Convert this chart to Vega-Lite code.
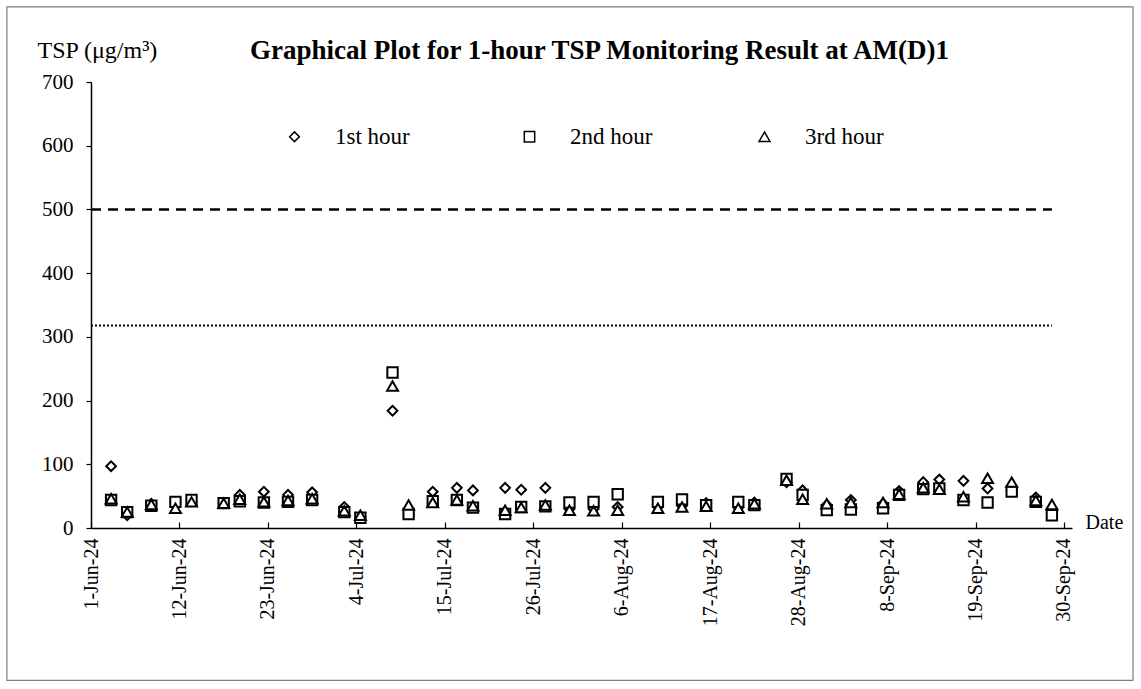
{
  "$schema": "https://vega.github.io/schema/vega-lite/v6.json",
  "width": 981,
  "height": 446,
  "autosize": {"type": "none"},
  "padding": {"left": 91, "top": 82, "right": 69, "bottom": 161},
  "background": "white",
  "config": {"font": "Liberation Serif", "view": {"stroke": null}},
  "title": {
    "text": "Graphical Plot for 1-hour TSP Monitoring Result at AM(D)1",
    "fontSize": 27,
    "fontWeight": "bold",
    "font": "Liberation Serif",
    "color": "black",
    "anchor": "middle",
    "frame": "group",
    "dx": 18,
    "offset": -59
  },
  "layer": [
    {
      "data": {"values": [{}]},
      "mark": {"type": "rect", "fill": null, "stroke": "#7f7f7f", "strokeWidth": 1.2},
      "encoding": {
        "x": {"datum": {"year": 2024, "month": 5, "date": 21, "hours": 13}, "type": "temporal", "scale": {"domain": [{"year": 2024, "month": 6, "date": 1}, {"year": 2024, "month": 10, "date": 1}]}},
        "x2": {"datum": {"year": 2024, "month": 10, "date": 8, "hours": 14}},
        "y": {"datum": 818, "type": "quantitative", "scale": {"domain": [0, 700], "nice": false}},
        "y2": {"datum": -239}
      }
    },
    {
      "data": {"values": [{"start": "2024-06-01T00:00", "end": "2024-09-28T12:00", "level": 500}]},
      "mark": {"type": "rule", "color": "black", "strokeWidth": 2.5, "strokeDash": [10, 7]},
      "encoding": {
        "x": {"field": "start", "type": "temporal", "scale": {"domain": [{"year": 2024, "month": 6, "date": 1}, {"year": 2024, "month": 10, "date": 1}]}},
        "x2": {"field": "end"},
        "y": {"field": "level", "type": "quantitative", "scale": {"domain": [0, 700], "nice": false}}
      }
    },
    {
      "data": {"values": [{"start": "2024-06-01T00:00", "end": "2024-09-28T12:00", "level": 318}]},
      "mark": {"type": "rule", "color": "black", "strokeWidth": 2, "strokeDash": [2, 2]},
      "encoding": {
        "x": {"field": "start", "type": "temporal", "scale": {"domain": [{"year": 2024, "month": 6, "date": 1}, {"year": 2024, "month": 10, "date": 1}]}},
        "x2": {"field": "end"},
        "y": {"field": "level", "type": "quantitative", "scale": {"domain": [0, 700], "nice": false}}
      }
    },
    {
      "data": {"values": [
        {"d": "2024-06-03T12:00", "h": "1st hour", "v": 97},
        {"d": "2024-06-05T12:00", "h": "1st hour", "v": 20},
        {"d": "2024-06-08T12:00", "h": "1st hour", "v": 38},
        {"d": "2024-06-11T12:00", "h": "1st hour", "v": 40},
        {"d": "2024-06-13T12:00", "h": "1st hour", "v": 42},
        {"d": "2024-06-17T12:00", "h": "1st hour", "v": 39},
        {"d": "2024-06-19T12:00", "h": "1st hour", "v": 52},
        {"d": "2024-06-22T12:00", "h": "1st hour", "v": 57},
        {"d": "2024-06-25T12:00", "h": "1st hour", "v": 52},
        {"d": "2024-06-28T12:00", "h": "1st hour", "v": 56},
        {"d": "2024-07-02T12:00", "h": "1st hour", "v": 33},
        {"d": "2024-07-04T12:00", "h": "1st hour", "v": 18},
        {"d": "2024-07-08T12:00", "h": "1st hour", "v": 184},
        {"d": "2024-07-10T12:00", "h": "1st hour", "v": 22},
        {"d": "2024-07-13T12:00", "h": "1st hour", "v": 57},
        {"d": "2024-07-16T12:00", "h": "1st hour", "v": 63},
        {"d": "2024-07-18T12:00", "h": "1st hour", "v": 59},
        {"d": "2024-07-22T12:00", "h": "1st hour", "v": 63},
        {"d": "2024-07-24T12:00", "h": "1st hour", "v": 60},
        {"d": "2024-07-27T12:00", "h": "1st hour", "v": 63},
        {"d": "2024-07-30T12:00", "h": "1st hour", "v": 30},
        {"d": "2024-08-02T12:00", "h": "1st hour", "v": 30},
        {"d": "2024-08-05T12:00", "h": "1st hour", "v": 33},
        {"d": "2024-08-10T12:00", "h": "1st hour", "v": 33},
        {"d": "2024-08-13T12:00", "h": "1st hour", "v": 35},
        {"d": "2024-08-16T12:00", "h": "1st hour", "v": 39},
        {"d": "2024-08-20T12:00", "h": "1st hour", "v": 32},
        {"d": "2024-08-22T12:00", "h": "1st hour", "v": 40},
        {"d": "2024-08-26T12:00", "h": "1st hour", "v": 72},
        {"d": "2024-08-28T12:00", "h": "1st hour", "v": 59},
        {"d": "2024-08-31T12:00", "h": "1st hour", "v": 36},
        {"d": "2024-09-03T12:00", "h": "1st hour", "v": 44},
        {"d": "2024-09-07T12:00", "h": "1st hour", "v": 38},
        {"d": "2024-09-09T12:00", "h": "1st hour", "v": 58},
        {"d": "2024-09-12T12:00", "h": "1st hour", "v": 72},
        {"d": "2024-09-14T12:00", "h": "1st hour", "v": 76},
        {"d": "2024-09-17T12:00", "h": "1st hour", "v": 74},
        {"d": "2024-09-20T12:00", "h": "1st hour", "v": 62},
        {"d": "2024-09-23T12:00", "h": "1st hour", "v": 58},
        {"d": "2024-09-26T12:00", "h": "1st hour", "v": 48},
        {"d": "2024-09-28T12:00", "h": "1st hour", "v": 28},
        {"d": "2024-06-03T12:00", "h": "2nd hour", "v": 44},
        {"d": "2024-06-05T12:00", "h": "2nd hour", "v": 25},
        {"d": "2024-06-08T12:00", "h": "2nd hour", "v": 35},
        {"d": "2024-06-11T12:00", "h": "2nd hour", "v": 41},
        {"d": "2024-06-13T12:00", "h": "2nd hour", "v": 44},
        {"d": "2024-06-17T12:00", "h": "2nd hour", "v": 39},
        {"d": "2024-06-19T12:00", "h": "2nd hour", "v": 42},
        {"d": "2024-06-22T12:00", "h": "2nd hour", "v": 40},
        {"d": "2024-06-25T12:00", "h": "2nd hour", "v": 41},
        {"d": "2024-06-28T12:00", "h": "2nd hour", "v": 44},
        {"d": "2024-07-02T12:00", "h": "2nd hour", "v": 25},
        {"d": "2024-07-04T12:00", "h": "2nd hour", "v": 16},
        {"d": "2024-07-08T12:00", "h": "2nd hour", "v": 244},
        {"d": "2024-07-10T12:00", "h": "2nd hour", "v": 22},
        {"d": "2024-07-13T12:00", "h": "2nd hour", "v": 42},
        {"d": "2024-07-16T12:00", "h": "2nd hour", "v": 44},
        {"d": "2024-07-18T12:00", "h": "2nd hour", "v": 32},
        {"d": "2024-07-22T12:00", "h": "2nd hour", "v": 22},
        {"d": "2024-07-24T12:00", "h": "2nd hour", "v": 33},
        {"d": "2024-07-27T12:00", "h": "2nd hour", "v": 34},
        {"d": "2024-07-30T12:00", "h": "2nd hour", "v": 40},
        {"d": "2024-08-02T12:00", "h": "2nd hour", "v": 41},
        {"d": "2024-08-05T12:00", "h": "2nd hour", "v": 53},
        {"d": "2024-08-10T12:00", "h": "2nd hour", "v": 41},
        {"d": "2024-08-13T12:00", "h": "2nd hour", "v": 45},
        {"d": "2024-08-16T12:00", "h": "2nd hour", "v": 36},
        {"d": "2024-08-20T12:00", "h": "2nd hour", "v": 41},
        {"d": "2024-08-22T12:00", "h": "2nd hour", "v": 36},
        {"d": "2024-08-26T12:00", "h": "2nd hour", "v": 77},
        {"d": "2024-08-28T12:00", "h": "2nd hour", "v": 52},
        {"d": "2024-08-31T12:00", "h": "2nd hour", "v": 28},
        {"d": "2024-09-03T12:00", "h": "2nd hour", "v": 29},
        {"d": "2024-09-07T12:00", "h": "2nd hour", "v": 31},
        {"d": "2024-09-09T12:00", "h": "2nd hour", "v": 52},
        {"d": "2024-09-12T12:00", "h": "2nd hour", "v": 61},
        {"d": "2024-09-14T12:00", "h": "2nd hour", "v": 62},
        {"d": "2024-09-17T12:00", "h": "2nd hour", "v": 44},
        {"d": "2024-09-20T12:00", "h": "2nd hour", "v": 40},
        {"d": "2024-09-23T12:00", "h": "2nd hour", "v": 57},
        {"d": "2024-09-26T12:00", "h": "2nd hour", "v": 41},
        {"d": "2024-09-28T12:00", "h": "2nd hour", "v": 20},
        {"d": "2024-06-03T12:00", "h": "3rd hour", "v": 46},
        {"d": "2024-06-05T12:00", "h": "3rd hour", "v": 25},
        {"d": "2024-06-08T12:00", "h": "3rd hour", "v": 37},
        {"d": "2024-06-11T12:00", "h": "3rd hour", "v": 31},
        {"d": "2024-06-13T12:00", "h": "3rd hour", "v": 41},
        {"d": "2024-06-17T12:00", "h": "3rd hour", "v": 39},
        {"d": "2024-06-19T12:00", "h": "3rd hour", "v": 45},
        {"d": "2024-06-22T12:00", "h": "3rd hour", "v": 41},
        {"d": "2024-06-25T12:00", "h": "3rd hour", "v": 43},
        {"d": "2024-06-28T12:00", "h": "3rd hour", "v": 46},
        {"d": "2024-07-02T12:00", "h": "3rd hour", "v": 27},
        {"d": "2024-07-04T12:00", "h": "3rd hour", "v": 20},
        {"d": "2024-07-08T12:00", "h": "3rd hour", "v": 223},
        {"d": "2024-07-10T12:00", "h": "3rd hour", "v": 36},
        {"d": "2024-07-13T12:00", "h": "3rd hour", "v": 40},
        {"d": "2024-07-16T12:00", "h": "3rd hour", "v": 44},
        {"d": "2024-07-18T12:00", "h": "3rd hour", "v": 35},
        {"d": "2024-07-22T12:00", "h": "3rd hour", "v": 28},
        {"d": "2024-07-24T12:00", "h": "3rd hour", "v": 32},
        {"d": "2024-07-27T12:00", "h": "3rd hour", "v": 36},
        {"d": "2024-07-30T12:00", "h": "3rd hour", "v": 28},
        {"d": "2024-08-02T12:00", "h": "3rd hour", "v": 27},
        {"d": "2024-08-05T12:00", "h": "3rd hour", "v": 28},
        {"d": "2024-08-10T12:00", "h": "3rd hour", "v": 31},
        {"d": "2024-08-13T12:00", "h": "3rd hour", "v": 33},
        {"d": "2024-08-16T12:00", "h": "3rd hour", "v": 34},
        {"d": "2024-08-20T12:00", "h": "3rd hour", "v": 31},
        {"d": "2024-08-22T12:00", "h": "3rd hour", "v": 38},
        {"d": "2024-08-26T12:00", "h": "3rd hour", "v": 75},
        {"d": "2024-08-28T12:00", "h": "3rd hour", "v": 45},
        {"d": "2024-08-31T12:00", "h": "3rd hour", "v": 38},
        {"d": "2024-09-03T12:00", "h": "3rd hour", "v": 40},
        {"d": "2024-09-07T12:00", "h": "3rd hour", "v": 40},
        {"d": "2024-09-09T12:00", "h": "3rd hour", "v": 53},
        {"d": "2024-09-12T12:00", "h": "3rd hour", "v": 63},
        {"d": "2024-09-14T12:00", "h": "3rd hour", "v": 61},
        {"d": "2024-09-17T12:00", "h": "3rd hour", "v": 49},
        {"d": "2024-09-20T12:00", "h": "3rd hour", "v": 78},
        {"d": "2024-09-23T12:00", "h": "3rd hour", "v": 72},
        {"d": "2024-09-26T12:00", "h": "3rd hour", "v": 43},
        {"d": "2024-09-28T12:00", "h": "3rd hour", "v": 37}
      ]},
      "mark": {"type": "point", "filled": false, "fill": "white", "fillOpacity": 1, "stroke": "black", "strokeWidth": 2, "opacity": 1},
      "encoding": {
        "x": {
          "field": "d",
          "type": "temporal",
          "scale": {"domain": [{"year": 2024, "month": 6, "date": 1}, {"year": 2024, "month": 10, "date": 1}]},
          "axis": {
            "values": [
              {"year": 2024, "month": 6, "date": 1},
              {"year": 2024, "month": 6, "date": 12},
              {"year": 2024, "month": 6, "date": 23},
              {"year": 2024, "month": 7, "date": 4},
              {"year": 2024, "month": 7, "date": 15},
              {"year": 2024, "month": 7, "date": 26},
              {"year": 2024, "month": 8, "date": 6},
              {"year": 2024, "month": 8, "date": 17},
              {"year": 2024, "month": 8, "date": 28},
              {"year": 2024, "month": 9, "date": 8},
              {"year": 2024, "month": 9, "date": 19},
              {"year": 2024, "month": 9, "date": 30}
            ],
            "format": "%-d-%b-%y",
            "labelAngle": -90,
            "labelAlign": "right",
            "labelBaseline": "middle",
            "labelFontSize": 20,
            "labelColor": "black",
            "labelPadding": 16,
            "tickSize": -6,
            "tickColor": "black",
            "tickWidth": 1.2,
            "domainColor": "black",
            "domainWidth": 1.5,
            "grid": false,
            "labelOverlap": false,
            "title": "Date",
            "titleAngle": 0,
            "titleAlign": "left",
            "titleBaseline": "alphabetic",
            "titleX": 994,
            "titleY": 0,
            "titleFontSize": 20,
            "titleFontWeight": "normal",
            "titleColor": "black"
          }
        },
        "y": {
          "field": "v",
          "type": "quantitative",
          "scale": {"domain": [0, 700], "nice": false},
          "axis": {
            "values": [0, 100, 200, 300, 400, 500, 600, 700],
            "labelFontSize": 21,
            "labelColor": "black",
            "labelPadding": 13,
            "tickSize": 5,
            "tickColor": "black",
            "tickWidth": 1.2,
            "domainColor": "black",
            "domainWidth": 1.5,
            "grid": false,
            "title": "TSP (μg/m³)",
            "titleAngle": 0,
            "titleAlign": "left",
            "titleBaseline": "alphabetic",
            "titleX": -54,
            "titleY": -25,
            "titleFontSize": 24,
            "titleFontWeight": "normal",
            "titleColor": "black"
          }
        },
        "shape": {
          "field": "h",
          "type": "nominal",
          "scale": {"domain": ["1st hour", "2nd hour", "3rd hour"], "range": ["diamond", "square", "triangle-up"]},
          "legend": {
            "title": null,
            "orient": "none",
            "legendX": 192,
            "legendY": 43,
            "direction": "horizontal",
            "gridAlign": "all",
            "labelFontSize": 23,
            "labelColor": "black",
            "labelOffset": 29,
            "columnPadding": 100,
            "padding": 0,
            "encode": {"symbols": {"update": {"stroke": {"value": "black"}, "fill": {"value": "white"}, "strokeWidth": {"value": 2}, "opacity": {"value": 1}, "fillOpacity": {"value": 1}, "strokeOpacity": {"value": 1}}}}
          }
        },
        "size": {
          "field": "h",
          "type": "nominal",
          "scale": {"domain": ["1st hour", "2nd hour", "3rd hour"], "range": [95, 120, 125]},
          "legend": {
            "title": null,
            "orient": "none",
            "legendX": 192,
            "legendY": 43,
            "direction": "horizontal",
            "gridAlign": "all",
            "labelFontSize": 23,
            "labelColor": "black",
            "labelOffset": 29,
            "columnPadding": 100,
            "padding": 0,
            "encode": {"symbols": {"update": {"stroke": {"value": "black"}, "fill": {"value": "white"}, "strokeWidth": {"value": 2}, "opacity": {"value": 1}, "fillOpacity": {"value": 1}, "strokeOpacity": {"value": 1}}}}
          }
        }
      }
    }
  ]
}
